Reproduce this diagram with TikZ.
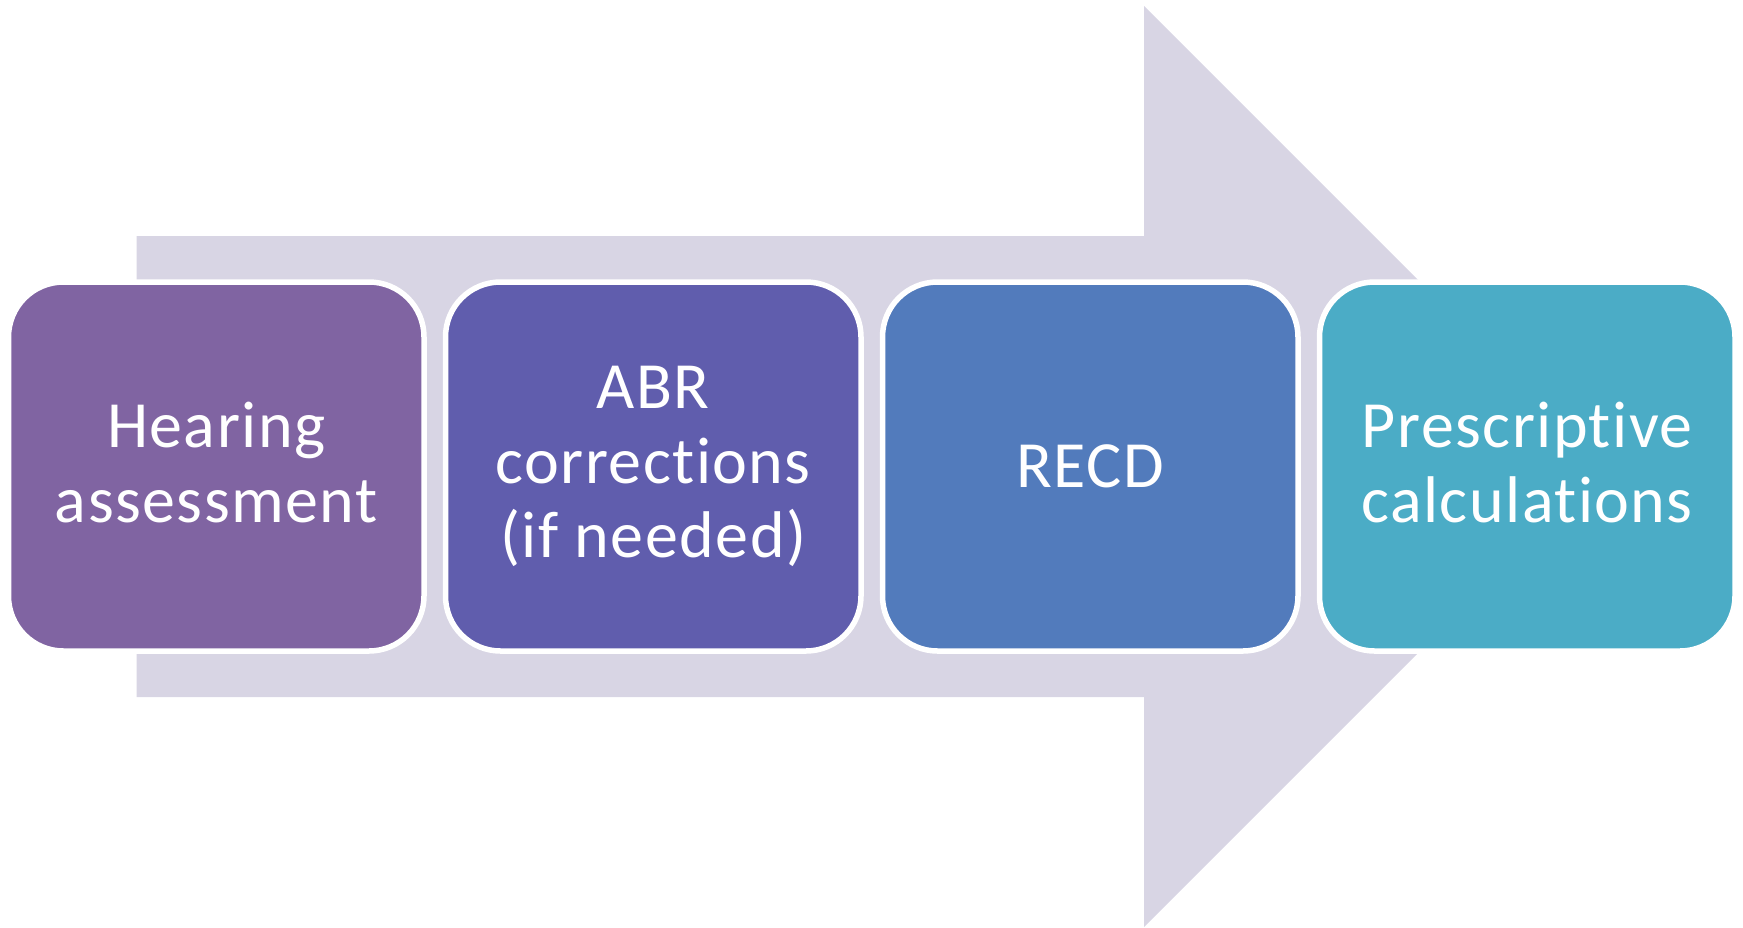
\documentclass[tikz,border=0pt]{standalone}
\usepackage{fontspec}
\setmainfont[Ligatures={NoCommon},LetterSpace=2.2]{Carlito}
\definecolor{arrowc}{RGB}{216,213,228}
\definecolor{cA}{RGB}{128,100,162}
\definecolor{cB}{RGB}{96,93,173}
\definecolor{cC}{RGB}{82,123,188}
\definecolor{cD}{RGB}{75,172,198}
\newcommand{\twolines}[2]{\raisebox{-3.5pt}[\height][\depth]{\begin{tabular}{@{}c@{}}#1\\#2\end{tabular}}}
\tikzset{
  stepbox/.style={rectangle, rounded corners=55pt, draw=white, line width=5.5pt,
    minimum width=415.5pt, minimum height=369pt, inner sep=0pt,
    text=white, align=center, font=\fontsize{66}{74.5}\selectfont}
}
\begin{document}
\begin{tikzpicture}[x=1pt,y=-1pt]
\useasboundingbox (0,0) rectangle (1743,927);
\fill[arrowc] (136.7,236) -- (1144,236) -- (1144,6) -- (1604.5,466.5) -- (1144,927) -- (1144,697) -- (136.7,697) -- cycle;
\node[stepbox, fill=cA] (b1) at (216.25,466.5) {\twolines{Hearing}{assessment}};
\node[stepbox, fill=cB] (b2) at (653.25,466.5) {ABR\\corrections\\(if needed)};
\node[stepbox, fill=cC] (b3) at (1090.25,466.5) {RECD};
\node[stepbox, fill=cD] (b4) at (1527.25,466.5) {\twolines{Prescriptive}{calculations}};
\end{tikzpicture}
\end{document}
